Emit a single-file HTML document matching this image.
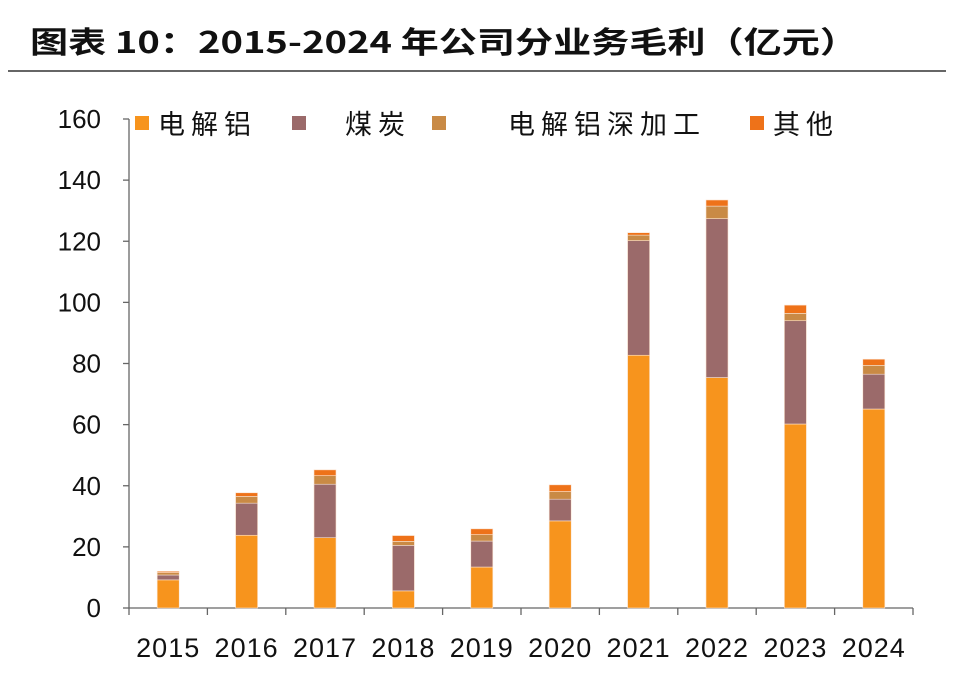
<!DOCTYPE html>
<html><head><meta charset="utf-8"><style>
body{margin:0;background:#fff;}
svg text{font-family:"Liberation Sans","Noto Sans CJK SC",sans-serif;}
</style></head><body>
<svg id="chart" width="955" height="681" viewBox="0 0 955 681" xmlns="http://www.w3.org/2000/svg">
<text x="30" y="53" font-size="30" font-weight="bold" fill="#111" textLength="828" lengthAdjust="spacingAndGlyphs" style="font-family:'Noto Sans CJK SC','Liberation Sans',sans-serif">图表 10：2015-2024 年公司分业务毛利（亿元）</text>
<line x1="8" y1="71" x2="946" y2="71" stroke="#333" stroke-width="1.5"/>
<g id="axes"></g><g id="bars"></g><g id="legend"></g>
</svg>
<script>
const categories=["2015","2016","2017","2018","2019","2020","2021","2022","2023","2024"];
const aluminum=[9.2,23.8,23.0,5.6,13.4,28.5,82.7,75.4,60.2,65.1];
const coal=[1.6,10.5,17.5,14.9,8.5,7.1,37.5,52.0,33.8,11.4];
const deepProcessing=[0.8,2.2,2.8,1.3,2.1,2.5,1.8,4.1,2.4,2.9];
const other=[0.4,1.2,1.9,1.9,1.9,2.2,0.8,2.0,2.7,2.0];
const yTicks=[0,20,40,60,80,100,120,140,160];
const seriesNames=["电解铝","煤炭","电解铝深加工","其他"];
const seriesColors=["#F7941D","#9B6A6A","#C98A45","#EE7219"];
const series=[aluminum,coal,deepProcessing,other];
const NS="http://www.w3.org/2000/svg";
const x0=129,x1=913,y0=608,yTop=119,yMax=160;
const bw=(x1-x0)/categories.length;
const yS=v=>y0-(v/yMax)*(y0-yTop);
const xC=i=>x0+bw*(i+0.5);
function mk(tag,attrs,parent){const e=document.createElementNS(NS,tag);for(const k in attrs)e.setAttribute(k,attrs[k]);parent.appendChild(e);return e;}
const axes=document.getElementById('axes');
let l=mk('line',{x1:x0,y1:yTop,x2:x0,y2:y0,stroke:'#666','stroke-width':1.3},axes);


l=mk('line',{x1:x0,y1:y0,x2:x1,y2:y0,stroke:'#666','stroke-width':1.3},axes);


yTicks.forEach(v=>{
 const y=yS(v);
 const t=mk('line',{x1:x0-6,y1:y,x2:x0,y2:y,stroke:'#666','stroke-width':1.3},axes);
 
 
 const tx=mk('text',{x:101,y:y+9,'font-size':26,'text-anchor':'end',fill:'#111'},axes);
 tx.textContent=v;
 
 
});
for(let i=0;i<=categories.length;i++){
 const x=x0+bw*i;
 const t=mk('line',{x1:x,y1:y0,x2:x,y2:y0+7,stroke:'#666','stroke-width':1.3},axes);
 
 
}
categories.forEach((c,i)=>{
 const tx=mk('text',{x:xC(i),y:657,'font-size':27,'text-anchor':'middle',fill:'#111','letter-spacing':1},axes);
 tx.textContent=c;
 
 
});
const bars=document.getElementById('bars');
categories.forEach((c,i)=>{
 let cum=0;
 series.forEach((s,k)=>{
  const v=s[i];
  const r=mk('rect',{x:xC(i)-11,y:yS(cum+v),width:22,height:yS(cum)-yS(cum+v),fill:seriesColors[k],stroke:'#fbe3d0','stroke-width':0.6},bars);
  
  
  cum+=v;
 });
});
const legend=document.getElementById('legend');
const lx=[135,292,432,750];
const tx=[158,345,508,773];
seriesNames.forEach((n,k)=>{
 const r=mk('rect',{x:lx[k],y:116,width:14,height:14,fill:seriesColors[k]},legend);
 
 
 const t=mk('text',{x:tx[k],y:134,'font-size':27,fill:'#111','letter-spacing':6},legend);
 t.textContent=n;
 
 
});
</script>
</body></html>
